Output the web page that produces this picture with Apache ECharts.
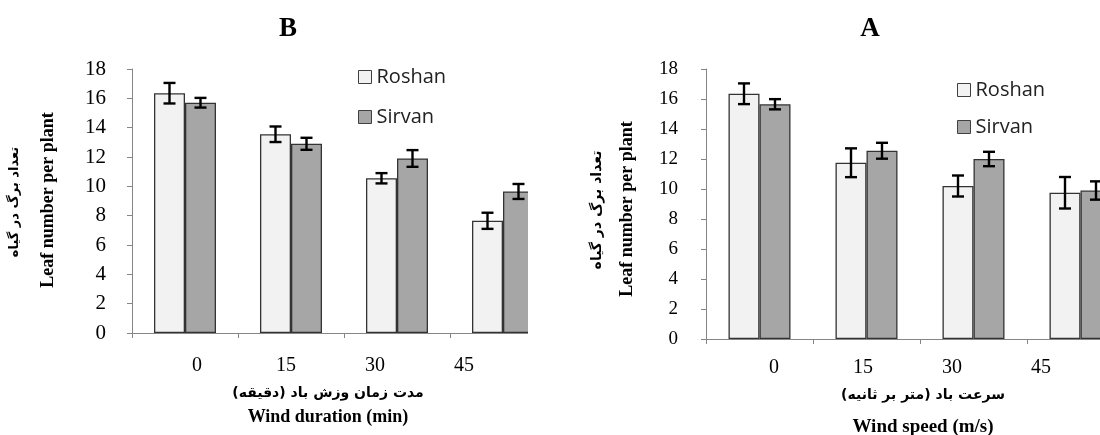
<!DOCTYPE html>
<html>
<head>
<meta charset="utf-8">
<script src="https://cdn.jsdelivr.net/npm/echarts@6/dist/echarts.min.js"></script>
<style>
html,body{margin:0;padding:0;background:#fff;}
#chart{width:1100px;height:435px;}
</style>
</head>
<body>
<div id="chart"></div>
<script>
// ---- data ----
const categories = ['0', '15', '30', '45'];
const seriesNames = ['Roshan', 'Sirvan'];
const yTickMin = 0, yTickMax = 18, yTickStep = 2;

// Chart B: wind duration (min)
const durationRoshan    = [16.35, 13.55, 10.55, 7.65];
const durationRoshanErr = [0.70, 0.53, 0.35, 0.55];
const durationSirvan    = [15.70, 12.90, 11.90, 9.65];
const durationSirvanErr = [0.33, 0.41, 0.57, 0.51];

// Chart A: wind speed (m/s)
const speedRoshan    = [16.35, 11.75, 10.20, 9.75];
const speedRoshanErr = [0.69, 0.96, 0.70, 1.05];
const speedSirvan    = [15.65, 12.55, 12.00, 9.90];
const speedSirvanErr = [0.34, 0.53, 0.48, 0.61];

const titleB = 'B', titleA = 'A';
const yTitleFa = 'تعداد برگ در گیاه';
const yTitleEn = 'Leaf number per plant';
const xTitleFaB = 'مدت زمان وزش باد (دقیقه)';
const xTitleEnB = 'Wind duration (min)';
const xTitleFaA = 'سرعت باد (متر بر ثانیه)';
const xTitleEnA = 'Wind speed (m/s)';

// ---- styles ----
const RLM = '\u200F';
const SERIF = '"Liberation Serif", "Times New Roman", serif';
const FA = '"DejaVu Sans", sans-serif';
const colRoshan = '#f2f2f2', colSirvan = '#a6a6a6';
const axisGray = '#868686';
const BAR_W = 31;

function errData(vals, errs) {
  return vals.map((v, i) => [i, v, errs[i]]);
}
function errRender(offset) {
  return function (params, api) {
    const i = api.value(0), v = api.value(1), e = api.value(2);
    const c = api.coord([i, v]);
    const x = c[0] + offset;
    const yt = api.coord([i, v + e])[1];
    const yb = api.coord([i, v - e])[1];
    const cap = 6;
    const st = { stroke: '#000', lineWidth: 2.4 };
    return {
      type: 'group',
      children: [
        { type: 'line', shape: { x1: x, y1: yt, x2: x, y2: yb }, style: st },
        { type: 'line', shape: { x1: x - cap, y1: yt, x2: x + cap, y2: yt }, style: st },
        { type: 'line', shape: { x1: x - cap, y1: yb, x2: x + cap, y2: yb }, style: st }
      ]
    };
  };
}
function barSeries(name, data, color, idx) {
  return {
    name: name, type: 'bar', xAxisIndex: idx, yAxisIndex: idx,
    data: data, barWidth: BAR_W, barGap: '0%',
    itemStyle: { color: color, borderColor: '#333', borderWidth: 1.3 },
    emphasis: { disabled: true }, z: 2
  };
}
function errSeries(name, vals, errs, idx, offset) {
  return {
    name: name, type: 'custom', xAxisIndex: idx, yAxisIndex: idx,
    data: errData(vals, errs), renderItem: errRender(offset),
    encode: { x: 0, y: 1 }, z: 5, silent: true
  };
}
function mainX(idx) {
  return {
    type: 'category', gridIndex: idx, data: categories, boundaryGap: true,
    axisLine: { show: true, lineStyle: { color: axisGray, width: 1 } },
    axisTick: { show: true, length: 5, lineStyle: { color: axisGray } },
    axisLabel: { show: false }, splitLine: { show: false }
  };
}
function mainY(idx, fontSize, margin) {
  return {
    type: 'value', gridIndex: idx, min: yTickMin, max: yTickMax, interval: yTickStep,
    axisLine: { show: true, lineStyle: { color: axisGray, width: 1 } },
    axisTick: { show: true, length: 5, lineStyle: { color: axisGray } },
    axisLabel: { color: '#000', fontFamily: SERIF, fontSize: fontSize, margin: margin },
    splitLine: { show: false }
  };
}
function labelX(idx, margin) {
  return {
    type: 'category', gridIndex: idx, data: categories, boundaryGap: true,
    axisLine: { show: false }, axisTick: { show: false },
    axisLabel: { color: '#000', fontFamily: SERIF, fontSize: 20, margin: margin },
    splitLine: { show: false }
  };
}
function hiddenY(idx) {
  return { type: 'value', gridIndex: idx, show: false, min: 0, max: 18 };
}
function txt(x, y, text, font, rot) {
  return {
    type: 'text', x: x, y: y, rotation: rot || 0, z: 50,
    style: {
      text: text, font: font, fill: '#000',
      align: 'center', verticalAlign: 'middle',
      textAlign: 'center', textVerticalAlign: 'middle'
    }
  };
}
function legend(left, top, gap) {
  return {
    data: seriesNames, orient: 'vertical', left: left, top: top, padding: 0,
    itemGap: gap, itemWidth: 13, itemHeight: 13, icon: 'rect',
    itemStyle: { borderColor: '#404040', borderWidth: 1 },
    textStyle: { fontFamily: '"Open Sans", sans-serif', fontSize: 20, color: '#222' },
    selectedMode: false
  };
}

const chart = echarts.init(document.getElementById('chart'), null, { renderer: 'canvas' });
const gridCommon = { containLabel: false, outerBoundsMode: 'none', show: false };
chart.setOption({
  animation: false,
  backgroundColor: '#fff',
  grid: [
    Object.assign({ left: 132, top: 69, width: 424, height: 264 }, gridCommon),
    Object.assign({ left: 706, top: 69, width: 428, height: 270 }, gridCommon),
    Object.assign({ left: 152.5, top: 69, width: 356, height: 264 }, gridCommon),
    Object.assign({ left: 729.5, top: 69, width: 356, height: 270 }, gridCommon)
  ],
  xAxis: [mainX(0), mainX(1), labelX(2, 23), labelX(3, 19)],
  yAxis: [mainY(0, 21, 26), mainY(1, 19, 28), hiddenY(2), hiddenY(3)],
  legend: [legend(358, 67, 20), legend(957, 80, 17)],
  series: [
    barSeries('Roshan', durationRoshan, colRoshan, 0),
    barSeries('Sirvan', durationSirvan, colSirvan, 0),
    errSeries('Roshan', durationRoshan, durationRoshanErr, 0, -BAR_W / 2),
    errSeries('Sirvan', durationSirvan, durationSirvanErr, 0, BAR_W / 2),
    barSeries('Roshan', speedRoshan, colRoshan, 1),
    barSeries('Sirvan', speedSirvan, colSirvan, 1),
    errSeries('Roshan', speedRoshan, speedRoshanErr, 1, -BAR_W / 2),
    errSeries('Sirvan', speedSirvan, speedSirvanErr, 1, BAR_W / 2)
  ],
  graphic: [
    // mask: chart B is cut off at its right edge
    { type: 'rect', shape: { x: 528, y: 55, width: 32, height: 300 }, style: { fill: '#fff' }, z: 40 },
    txt(288, 29, titleB, 'bold 27px ' + SERIF),
    txt(870, 29, titleA, 'bold 27px ' + SERIF),
    txt(15, 202, RLM + yTitleFa + RLM, 'bold 13px ' + FA, Math.PI / 2),
    txt(48, 200, yTitleEn, 'bold 18px ' + SERIF, Math.PI / 2),
    txt(597, 210, RLM + yTitleFa + RLM, 'bold 14px ' + FA, Math.PI / 2),
    txt(627, 209, yTitleEn, 'bold 18px ' + SERIF, Math.PI / 2),
    txt(328, 393, RLM + xTitleFaB + RLM, 'bold 14px ' + FA),
    txt(328, 417, xTitleEnB, 'bold 18px ' + SERIF),
    txt(923, 395, RLM + xTitleFaA + RLM, 'bold 14px ' + FA),
    txt(923, 427, xTitleEnA, 'bold 19px ' + SERIF)
  ]
});
</script>
</body>
</html>
